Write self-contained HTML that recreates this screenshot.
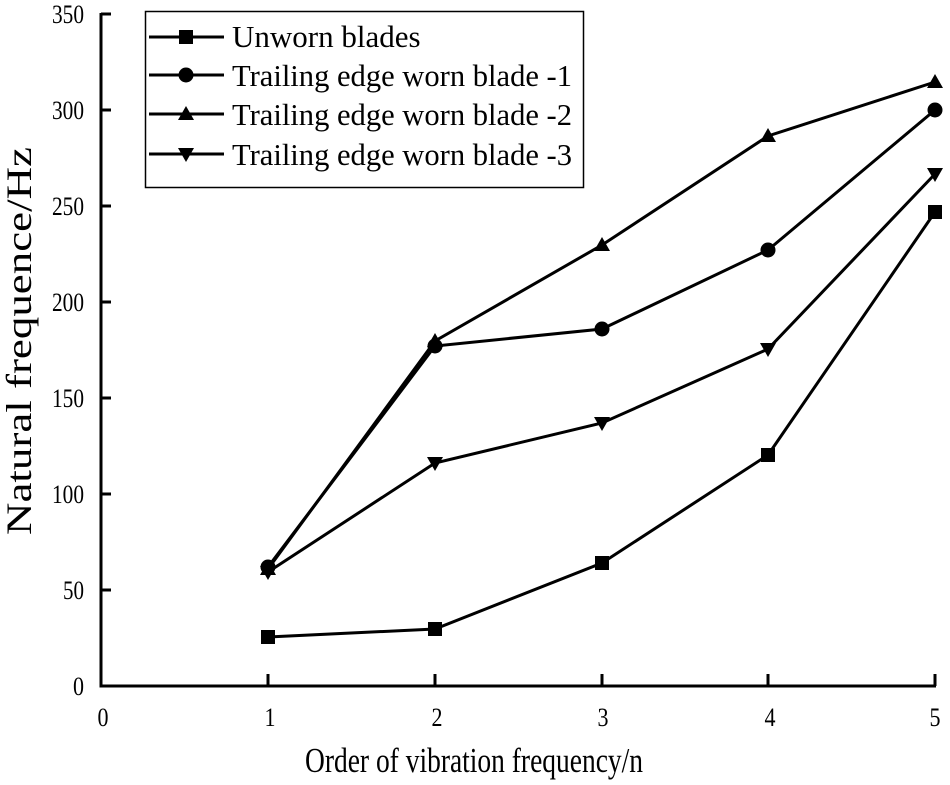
<!DOCTYPE html>
<html><head><style>body{margin:0;background:#fff}svg{display:block}</style></head>
<body>
<svg width="950" height="785" xmlns="http://www.w3.org/2000/svg" font-family="Liberation Serif, serif">
<rect width="950" height="785" fill="#fff"/>
<g stroke="#000" stroke-width="3" fill="none">
<line x1="101" y1="13" x2="101" y2="687"/>
<line x1="99.5" y1="686" x2="936" y2="686"/>
<line x1="101" y1="14" x2="111" y2="14"/>
<line x1="101" y1="110" x2="111" y2="110"/>
<line x1="101" y1="206" x2="111" y2="206"/>
<line x1="101" y1="302" x2="111" y2="302"/>
<line x1="101" y1="398" x2="111" y2="398"/>
<line x1="101" y1="494" x2="111" y2="494"/>
<line x1="101" y1="590" x2="111" y2="590"/>
<line x1="268" y1="686" x2="268" y2="674"/>
<line x1="435" y1="686" x2="435" y2="674"/>
<line x1="602" y1="686" x2="602" y2="674"/>
<line x1="768" y1="686" x2="768" y2="674"/>
<line x1="935" y1="686" x2="935" y2="674"/>
</g>
<g font-size="26" text-anchor="end">
<text x="84" y="23" textLength="32" lengthAdjust="spacingAndGlyphs">350</text>
<text x="84" y="119" textLength="32" lengthAdjust="spacingAndGlyphs">300</text>
<text x="84" y="215" textLength="32" lengthAdjust="spacingAndGlyphs">250</text>
<text x="84" y="311" textLength="32" lengthAdjust="spacingAndGlyphs">200</text>
<text x="84" y="407" textLength="32" lengthAdjust="spacingAndGlyphs">150</text>
<text x="84" y="503" textLength="32" lengthAdjust="spacingAndGlyphs">100</text>
<text x="84" y="599" textLength="21" lengthAdjust="spacingAndGlyphs">50</text>
<text x="84" y="695" textLength="11" lengthAdjust="spacingAndGlyphs">0</text>
</g>
<g font-size="26" text-anchor="middle">
<text x="103" y="726" textLength="11" lengthAdjust="spacingAndGlyphs">0</text><text x="270" y="726" textLength="11" lengthAdjust="spacingAndGlyphs">1</text><text x="437" y="726" textLength="11" lengthAdjust="spacingAndGlyphs">2</text>
<text x="603" y="726" textLength="11" lengthAdjust="spacingAndGlyphs">3</text><text x="770" y="726" textLength="11" lengthAdjust="spacingAndGlyphs">4</text><text x="935" y="726" textLength="11" lengthAdjust="spacingAndGlyphs">5</text>
</g>
<text x="305" y="772" font-size="35" textLength="338" lengthAdjust="spacingAndGlyphs">Order of vibration frequency/n</text>
<text transform="translate(31,535) rotate(-90)" font-size="36" textLength="388" lengthAdjust="spacingAndGlyphs">Natural frequence/Hz</text>
<g stroke="#000" stroke-width="3" fill="none">
<polyline points="268,637 435,629 602,563 768,455 935,212"/>
<polyline points="268,567 435,346 602,329 768,250 935,110"/>
<polyline points="268,569 435,341 602,245 768,136 935,82"/>
<polyline points="268,572 435,463 602,423 768,349 935,174"/>
</g>
<g fill="#000">
<rect x="261" y="630" width="14" height="14"/><rect x="428" y="622" width="14" height="14"/><rect x="595" y="556" width="14" height="14"/><rect x="761" y="448" width="14" height="14"/><rect x="928" y="205" width="14" height="14"/>
<circle cx="268" cy="567" r="7.5"/><circle cx="435" cy="346" r="7.5"/><circle cx="602" cy="329" r="7.5"/><circle cx="768" cy="250" r="7.5"/><circle cx="935" cy="110" r="7.5"/>
<path d="M268,561l8,14h-16z M435,333l8,14h-16z M602,237l8,14h-16z M768,128l8,14h-16z M935,74l8,14h-16z"/>
<path d="M268,580l8,-14h-16z M435,471l8,-14h-16z M602,431l8,-14h-16z M768,357l8,-14h-16z M935,182l8,-14h-16z"/>
</g>
<rect x="145.5" y="11.5" width="438" height="176" fill="#fff" stroke="#000" stroke-width="1.5"/>
<g stroke="#000" stroke-width="3">
<line x1="149" y1="37" x2="224" y2="37"/><line x1="149" y1="75" x2="224" y2="75"/>
<line x1="149" y1="114" x2="224" y2="114"/><line x1="149" y1="154" x2="224" y2="154"/>
</g>
<g fill="#000">
<rect x="179" y="30" width="14" height="14"/>
<circle cx="186" cy="75" r="7.5"/>
<path d="M186,106l8,14h-16z"/>
<path d="M186,162l8,-14h-16z"/>
</g>
<g font-size="31">
<text x="232" y="47">Unworn blades</text>
<text x="232" y="86" textLength="340" lengthAdjust="spacingAndGlyphs">Trailing edge worn blade -1</text>
<text x="232" y="125" textLength="340" lengthAdjust="spacingAndGlyphs">Trailing edge worn blade -2</text>
<text x="232" y="165" textLength="340" lengthAdjust="spacingAndGlyphs">Trailing edge worn blade -3</text>
</g>
</svg>
</body></html>
